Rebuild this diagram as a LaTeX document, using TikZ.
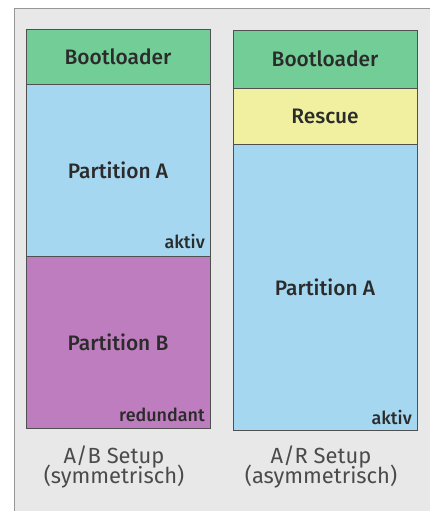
\documentclass[tikz,border=0pt]{standalone}
\usepackage{fontspec}
\setmainfont{Fira Sans}[BoldFont={Fira Sans Medium}]
\definecolor{panel}{RGB}{232,232,232}
\definecolor{panelline}{RGB}{150,150,150}
\definecolor{edge}{RGB}{80,80,80}
\definecolor{boot}{RGB}{115,205,150}
\definecolor{partA}{RGB}{165,215,240}
\definecolor{partB}{RGB}{190,125,190}
\definecolor{rescue}{RGB}{240,240,160}
\definecolor{txt}{RGB}{43,43,43}
\definecolor{captxt}{RGB}{75,75,75}
\begin{document}
\begin{tikzpicture}[x=1bp,y=-1bp,
  part/.style={draw=edge, line width=0.9bp, inner sep=0pt, minimum width=184bp,
    text=txt, font=\fontsize{21}{24}\selectfont\bfseries},
  tag/.style={text=txt, inner sep=0pt, font=\fontsize{18}{20}\selectfont\bfseries},
  caption/.style={text=captxt, align=center, inner sep=0pt,
    font=\fontsize{22}{20}\selectfont}]
\useasboundingbox (0,0) rectangle (430,511);
\fill[panel] (14,8) rectangle (430,511);
\draw[panelline, line width=0.8bp] (14,511) -- (14,8) -- (430,8);
% left column
\node[part, fill=boot, minimum height=55bp] (lboot) at (118,56.5) {Bootloader};
\node[part, fill=partA, minimum height=172bp] (lA) at (118,170) {Partition A};
\node[part, fill=partB, minimum height=172bp] (lB) at (118,342) {Partition B};
\node[tag, anchor=base east] (lAtag) at (205,248) {aktiv};
\node[tag, anchor=base east] (lBtag) at (205,421) {redundant};
% right column
\node[part, fill=boot, minimum height=58bp] (rboot) at (325,59) {Bootloader};
\node[part, fill=rescue, minimum height=56bp] (rresc) at (325,116) {Rescue};
\node[part, fill=partA, minimum height=286bp] (rA) at (325,287) {Partition A};
\node[tag, anchor=base east] (rAtag) at (412,424) {aktiv};
% captions
\node[caption, anchor=base] (lcap) at (114,463) {A/B Setup};
\node[caption, anchor=base] (lcap2) at (114,483) {(symmetrisch)};
\node[caption, anchor=base] (rcap) at (321,463) {A/R Setup};
\node[caption, anchor=base] (rcap2) at (321,483) {(asymmetrisch)};
\end{tikzpicture}
\end{document}
